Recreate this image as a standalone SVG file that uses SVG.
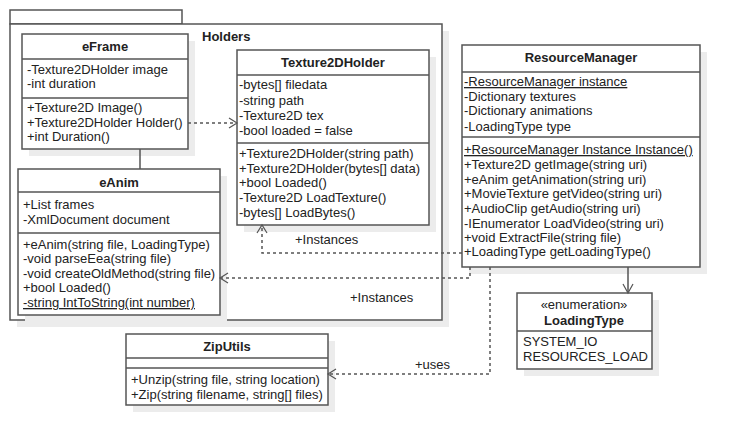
<svg xmlns="http://www.w3.org/2000/svg" width="739" height="446" viewBox="0 0 739 446">
<defs>
<style>
.sh{fill:#ececec}
.box{fill:#fff;stroke:#555;stroke-width:1.5}
.ln{stroke:#555;stroke-width:1.5;fill:none}
.t{font-family:"Liberation Sans",Arial,sans-serif;font-size:13px;fill:#222}
.b{font-family:"Liberation Sans",Arial,sans-serif;font-size:13px;font-weight:bold;fill:#222}
.u{text-decoration:underline}
.d{stroke:#555;stroke-width:1.5;fill:none;stroke-dasharray:3,3}
.ah{stroke:#555;stroke-width:1.2;fill:none}
</style>
</defs>
<rect width="739" height="446" fill="#fff"/>
<g id="package-Holders">
<rect class="sh" x="17" y="31" width="432" height="296"/>
<rect class="box" x="10" y="10" width="172" height="14"/>
<rect class="box" x="10" y="24" width="432" height="296"/>
<text class="b" x="202" y="41">Holders</text>
</g>
<g id="eFrame">
<rect class="sh" x="29" y="41" width="166" height="115"/>
<rect class="box" x="22" y="34" width="166" height="115"/>
<line class="ln" x1="22" y1="59" x2="188" y2="59"/>
<line class="ln" x1="22" y1="98" x2="188" y2="98"/>
<text class="b" x="105" y="51" text-anchor="middle">eFrame</text>
<text class="t" x="27" y="74">-Texture2DHolder image</text>
<text class="t" x="27" y="88">-int duration</text>
<text class="t" x="27" y="112">+Texture2D Image()</text>
<text class="t" x="27" y="127">+Texture2DHolder Holder()</text>
<text class="t" x="27" y="141">+int Duration()</text>
</g>
<g id="eAnim">
<rect class="sh" x="25" y="176" width="202" height="146"/>
<rect class="box" x="18" y="169" width="202" height="146"/>
<line class="ln" x1="18" y1="192" x2="220" y2="192"/>
<line class="ln" x1="18" y1="233" x2="220" y2="233"/>
<text class="b" x="119" y="187" text-anchor="middle">eAnim</text>
<text class="t" x="23" y="209">+List frames</text>
<text class="t" x="23" y="224">-XmlDocument document</text>
<text class="t" x="23" y="249">+eAnim(string file, LoadingType)</text>
<text class="t" x="23" y="263">-void parseEea(string file)</text>
<text class="t" x="23" y="278">-void createOldMethod(string file)</text>
<text class="t" x="23" y="292">+bool Loaded()</text>
<text class="t u" x="23" y="307">-string IntToString(int number)</text>
</g>
<g id="Texture2DHolder">
<rect class="sh" x="244" y="57" width="192" height="175"/>
<rect class="box" x="237" y="50" width="192" height="175"/>
<line class="ln" x1="237" y1="75" x2="429" y2="75"/>
<line class="ln" x1="237" y1="143" x2="429" y2="143"/>
<text class="b" x="333" y="67" text-anchor="middle">Texture2DHolder</text>
<text class="t" x="239" y="89">-bytes[] filedata</text>
<text class="t" x="239" y="105">-string path</text>
<text class="t" x="239" y="120">-Texture2D tex</text>
<text class="t" x="239" y="135">-bool loaded = false</text>
<text class="t" x="239" y="158">+Texture2DHolder(string path)</text>
<text class="t" x="239" y="173">+Texture2DHolder(bytes[] data)</text>
<text class="t" x="239" y="187">+bool Loaded()</text>
<text class="t" x="239" y="202">-Texture2D LoadTexture()</text>
<text class="t" x="239" y="217">-bytes[] LoadBytes()</text>
</g>
<g id="ResourceManager">
<rect class="sh" x="469" y="52" width="238" height="222"/>
<rect class="box" x="462" y="45" width="238" height="222"/>
<line class="ln" x1="462" y1="72" x2="700" y2="72"/>
<line class="ln" x1="462" y1="137" x2="700" y2="137"/>
<text class="b" x="581" y="62" text-anchor="middle">ResourceManager</text>
<text class="t u" x="464" y="86">-ResourceManager instance</text>
<text class="t" x="464" y="101">-Dictionary textures</text>
<text class="t" x="464" y="115">-Dictionary animations</text>
<text class="t" x="464" y="131">-LoadingType type</text>
<text class="t u" x="464" y="154">+ResourceManager Instance Instance()</text>
<text class="t" x="464" y="169">+Texture2D getImage(string uri)</text>
<text class="t" x="464" y="184">+eAnim getAnimation(string uri)</text>
<text class="t" x="464" y="198">+MovieTexture getVideo(string uri)</text>
<text class="t" x="464" y="213">+AudioClip getAudio(string uri)</text>
<text class="t" x="464" y="228">-IEnumerator LoadVideo(string uri)</text>
<text class="t" x="464" y="242">+void ExtractFile(string file)</text>
<text class="t" x="464" y="256">+LoadingType getLoadingType()</text>
</g>
<g id="LoadingType">
<rect class="sh" x="524" y="300" width="135" height="76"/>
<rect class="box" x="517" y="293" width="135" height="76"/>
<line class="ln" x1="517" y1="331" x2="652" y2="331"/>
<text class="t" x="584" y="309" text-anchor="middle">«enumeration»</text>
<text class="b" x="584" y="325" text-anchor="middle">LoadingType</text>
<text class="t" x="523" y="346">SYSTEM_IO</text>
<text class="t" x="523" y="361">RESOURCES_LOAD</text>
</g>
<g id="ZipUtils">
<rect class="sh" x="133" y="341" width="202" height="71"/>
<rect class="box" x="126" y="334" width="202" height="71"/>
<line class="ln" x1="126" y1="358" x2="328" y2="358"/>
<line class="ln" x1="126" y1="368" x2="328" y2="368"/>
<text class="b" x="227" y="351" text-anchor="middle">ZipUtils</text>
<text class="t" x="131" y="384">+Unzip(string file, string location)</text>
<text class="t" x="131" y="399">+Zip(string filename, string[] files)</text>
</g>
<g id="connectors">
<line class="ln" x1="140" y1="149" x2="140" y2="169"/>
<path class="d" d="M188,123 H236"/>
<path class="ah" d="M229,118 L237,123 L229,128"/>
<path class="d" d="M462,253 H262 V226"/>
<path class="ah" d="M257,233 L262,225 L267,233"/>
<text class="t" x="295" y="244">+Instances</text>
<path class="d" d="M470,267 V278 H221"/>
<path class="ah" d="M228,273 L220,278 L228,283"/>
<text class="t" x="350" y="302">+Instances</text>
<path class="d" d="M490,267 V374 H329"/>
<path class="ah" d="M336,369 L328,374 L336,379"/>
<text class="t" x="415" y="369">+uses</text>
<line class="ln" x1="628" y1="267" x2="628" y2="292"/>
<path class="ah" d="M623,284 L628,293 L633,284"/>
</g>
</svg>
